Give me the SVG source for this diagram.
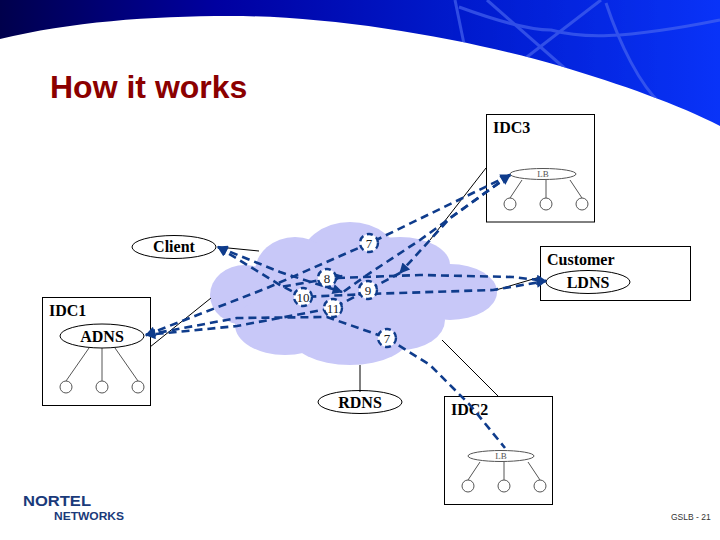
<svg xmlns="http://www.w3.org/2000/svg" width="720" height="540" viewBox="0 0 720 540">
<defs>
<linearGradient id="band" x1="0" y1="0" x2="1" y2="0"><stop offset="0" stop-color="#00004c"/><stop offset="0.3" stop-color="#0000a0"/><stop offset="0.6" stop-color="#0018c8"/><stop offset="1" stop-color="#0a34f8"/></linearGradient>
<clipPath id="bandclip"><path d="M0 0H720V126C680 105 620 84 560 66C470 40 340 16 230 16C150 16 70 22 0 39Z"/></clipPath>
<marker id="ah" viewBox="0 0 10 10" refX="9" refY="5" markerWidth="5" markerHeight="4" orient="auto-start-reverse"><path d="M0 0L10 5L0 10z" fill="#0f3c8c"/></marker>
</defs>
<style>
.box{fill:#fff;stroke:#000;stroke-width:1}
.el{fill:#fff;stroke:#000;stroke-width:1}
.lb{fill:#fff;stroke:#555;stroke-width:1}
.srv{fill:#fff;stroke:#555;stroke-width:1}
.ln{fill:none;stroke:#555;stroke-width:1}
.thin{fill:none;stroke:#000;stroke-width:1}
.dash{fill:none;stroke:#0f3c8c;stroke-width:2.6;stroke-dasharray:8 5}
.num{fill:#fff;stroke:#0f3c8c;stroke-width:2.4;stroke-dasharray:6 4}
.t{font-family:"Liberation Serif",serif;font-weight:bold;font-size:16px;fill:#000}
.n{font-family:"Liberation Serif",serif;font-size:13px;fill:#222;text-anchor:middle}
.l{font-family:"Liberation Serif",serif;font-size:9px;fill:#555;text-anchor:middle}
.m{text-anchor:middle}
</style>
<rect width="720" height="540" fill="#fff"/>
<g id="banner">
<path d="M0 0H720V126C680 105 620 84 560 66C470 40 340 16 230 16C150 16 70 22 0 39Z" fill="url(#band)"/>
<g fill="none" stroke="#4a68f0" stroke-width="3" opacity="0.65" clip-path="url(#bandclip)">
<path d="M455 0L464 44"/><path d="M487 0L569 72"/><path d="M601 0L523 60"/><path d="M606 3C620 45 640 85 661 104"/><path d="M459 7C500 22 530 30 551 30C580 38 620 40 720 20"/>
</g>
</g>
<text id="title" x="50" y="98" font-family="Liberation Sans,sans-serif" font-weight="bold" font-size="32" fill="#8b0000">How it works</text>
<g id="cloud" fill="#c8c8f8">
<ellipse cx="350" cy="262" rx="50" ry="40"/><ellipse cx="295" cy="272" rx="40" ry="35"/><ellipse cx="245" cy="295" rx="35" ry="30"/>
<ellipse cx="450" cy="292" rx="47" ry="28"/><ellipse cx="400" cy="265" rx="50" ry="28"/><ellipse cx="285" cy="325" rx="50" ry="30"/>
<ellipse cx="350" cy="335" rx="60" ry="30"/><ellipse cx="400" cy="320" rx="45" ry="30"/><rect x="260" y="265" width="180" height="55"/>
</g>
<g id="idc3"><rect class="box" x="486.500" y="114.500" width="108" height="107.500"/><text class="t" x="493" y="133">IDC3</text>
<path class="ln" d="M522 180L510 198M546 180V198M570 180L582 198"/><ellipse class="lb" cx="543" cy="174" rx="33" ry="5.500"/><text class="l" x="543" y="177">LB</text><circle class="srv" cx="510" cy="204" r="6"/><circle class="srv" cx="546" cy="204" r="6"/><circle class="srv" cx="582" cy="204" r="6"/></g>
<g id="customer"><rect class="box" x="540.500" y="246.500" width="150" height="54"/><text class="t" x="547" y="265">Customer</text><ellipse class="el" cx="588" cy="282" rx="42" ry="11.500"/><text class="t m" x="588" y="288">LDNS</text></g>
<g id="idc1"><rect class="box" x="42.500" y="297.500" width="108" height="108"/><text class="t" x="49" y="316">IDC1</text>
<path class="ln" d="M89 348L66 381M102 348V381M115 348L138 381"/><ellipse class="el" cx="102" cy="336" rx="42" ry="12"/><text class="t m" x="102" y="342">ADNS</text><circle class="srv" cx="66" cy="387" r="6"/><circle class="srv" cx="102" cy="387" r="6"/><circle class="srv" cx="138" cy="387" r="6"/></g>
<g id="idc2"><rect class="box" x="444.500" y="396.500" width="108" height="108"/><text class="t" x="451" y="415">IDC2</text>
<path class="ln" d="M480 462L468 480M504 462V480M528 462L540 480"/><ellipse class="lb" cx="501" cy="456" rx="33" ry="5.500"/><text class="l" x="501" y="459">LB</text><circle class="srv" cx="468" cy="486" r="6"/><circle class="srv" cx="504" cy="486" r="6"/><circle class="srv" cx="540" cy="486" r="6"/></g>
<g id="client"><ellipse class="el" cx="174" cy="247" rx="42" ry="11.500"/><text class="t m" x="174" y="252">Client</text></g>
<g id="rdns"><ellipse class="el" cx="360" cy="402" rx="42" ry="11.500"/><text class="t m" x="360" y="408">RDNS</text></g>
<g id="connectors">
<path class="thin" d="M218 247L259 251M150 347L211 298M486 168L430 240M496 290L540 277M442 340L498 396M360 365V392"/>
<path class="dash" d="M510 175L370 243L267 288L146 335" marker-start="url(#ah)" marker-end="url(#ah)"/>
<path class="dash" d="M218 247L280 272L342 292" marker-start="url(#ah)" marker-end="url(#ah)"/>
<path class="dash" d="M218 247L280 285L303 297L368 294L493 290L546 281" marker-start="url(#ah)" marker-end="url(#ah)"/>
<path class="dash" d="M342 276L310 282L280 287" marker-start="url(#ah)"/>
<path class="dash" d="M337 278L420 275L513 277L546 281" marker-end="url(#ah)"/>
<path class="dash" d="M510 175L450 218L400 273" marker-start="url(#ah)" marker-end="url(#ah)"/>
<path class="dash" d="M400 273L368 290L333 308L237 326L146 335" marker-end="url(#ah)"/>
<path class="dash" d="M510 175L420 240L367 275L343 292"/>
<path class="dash" d="M146 335L237 318L327 317L387 338L430 365L470 405L505 448"/>
</g>
<g id="n7a"><circle class="num" cx="369" cy="243" r="9"/><text class="n" x="369" y="248">7</text></g>
<g id="n8"><circle class="num" cx="327" cy="278" r="9"/><text class="n" x="327" y="283">8</text></g>
<g id="n10"><circle class="num" cx="303" cy="297" r="9"/><text class="n" x="303" y="302">10</text></g>
<g id="n9"><circle class="num" cx="368" cy="290" r="9"/><text class="n" x="368" y="295">9</text></g>
<g id="n11"><circle class="num" cx="333" cy="308" r="9"/><text class="n" x="333" y="313">11</text></g>
<g id="n7b"><circle class="num" cx="387" cy="338" r="9"/><text class="n" x="387" y="343">7</text></g>
<g id="logo" font-family="Liberation Sans,sans-serif" font-weight="bold" fill="#1a3a7a">
<text x="23" y="506" font-size="14" textLength="68" lengthAdjust="spacingAndGlyphs">NORTEL</text>
<text x="54" y="520" font-size="11.500" textLength="70" lengthAdjust="spacingAndGlyphs">NETWORKS</text>
</g>
<text id="page" x="671" y="520" font-family="Liberation Sans,sans-serif" font-size="8.500" fill="#333">GSLB - 21</text>
</svg>
